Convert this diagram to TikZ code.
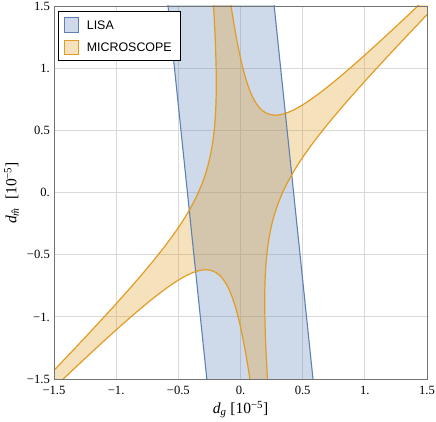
\documentclass[tikz,border=0pt]{standalone}
\usepackage{fontspec}
\setmainfont{Liberation Serif}
\newfontfamily\legendfont{Liberation Sans}
\definecolor{mblue}{rgb}{0.368417,0.506779,0.709798}
\definecolor{morange}{rgb}{0.880722,0.611041,0.142051}
\newcommand\MicPath{plot[domain=2.8:-2.8, samples=220, variable=\t] ({0.34205*(exp(\t)-0.1*exp(-\t))/1.1}, {0.34205*(exp(\t)+exp(-\t))/1.1})
 -- plot[domain=-2.8:2.8, samples=220, variable=\t] ({-0.33912*(exp(\t)+0.1*exp(-\t))/1.1}, {-0.33912*(exp(\t)-exp(-\t))/1.1})
 -- plot[domain=2.8:-2.8, samples=220, variable=\t] ({-0.34205*(exp(\t)-0.1*exp(-\t))/1.1}, {-0.34205*(exp(\t)+exp(-\t))/1.1})
 -- plot[domain=-2.8:2.8, samples=220, variable=\t] ({0.33912*(exp(\t)+0.1*exp(-\t))/1.1}, {0.33912*(exp(\t)-exp(-\t))/1.1})
 -- cycle}
\newcommand\LisaPath{(-0.5934,1.6) -- (0.2606,1.6) -- (0.5934,-1.6) -- (-0.2606,-1.6) -- cycle}
\begin{document}
\begin{tikzpicture}[x=1pt,y=1pt,
  gridline/.style={line width=0.8pt, color=black!15},
  frameline/.style={line width=0.9pt, color=black!55},
  ticklab/.style={font=\fontsize{12.6}{12.6}\selectfont, inner sep=0pt},
  axlab/.style={font=\fontsize{15.5}{15.5}\selectfont, inner sep=0pt},
  lisaline/.style={line width=1.1pt, color=mblue, line join=round},
  micline/.style={line width=1.2pt, color=morange, line join=round},
  lisafill/.style={fill=mblue, fill opacity=0.3},
  micfill/.style={fill=morange, fill opacity=0.3},
  legtext/.style={font=\legendfont\fontsize{12.4}{12.4}\selectfont, inner sep=0pt, anchor=west},
]
\useasboundingbox (0,0) rectangle (436,422);
\begin{scope}[shift={(240.5pt,229.5pt)}, x=124.33pt, y=124.33pt]
  \foreach \v in {-1,-0.5,0,0.5,1} {
    \draw[gridline] (\v,-1.5) -- (\v,1.5);
    \draw[gridline] (-1.5,\v) -- (1.5,\v);
  }
  \begin{scope}
    \clip (-1.5,-1.5) rectangle (1.5,1.5);
    \fill[lisafill] \LisaPath;
    \fill[micfill] \MicPath;
    \draw[lisaline] \LisaPath;
    \draw[micline] \MicPath;
  \end{scope}
  \draw[frameline] (-1.5,-1.5) rectangle (1.5,1.5);
  \foreach \v/\t in {-1.5/{−1.5},-1/{−1.},-0.5/{−0.5},0/{0.},0.5/{0.5},1/{1.},1.5/{1.5}} {
    \node[ticklab, anchor=base] at ([yshift=-15.5pt]\v,-1.5) {\t};
    \node[ticklab, anchor=base east] at ([xshift=-4pt,yshift=-4.2pt]-1.5,\v) {\t};
  }
\end{scope}
\node[axlab, anchor=base] (xlab) at (240.5,8.5) {\textit{d}\textsubscript{\textit{g}} [10\textsuperscript{−5}]};
\node[axlab, anchor=base, rotate=90] (ylab) at (16.5,229) {\textit{d}\textsubscript{\textit{\^{m}}} [10\textsuperscript{−5}]};
\draw[fill=white, line width=0.7pt] (58.7,361.3) rectangle (180.7,410.3);
\draw[fill=mblue!30, draw=mblue, line width=0.8pt] (64,389.7) rectangle (78.7,404.7);
\draw[fill=morange!30, draw=morange, line width=0.8pt] (64,367.7) rectangle (78.7,382);
\node[legtext] (lisa) at (86.7,397.2) {LISA};
\node[legtext] (mic) at (86.7,374.8) {MICROSCOPE};
\end{tikzpicture}
\end{document}
